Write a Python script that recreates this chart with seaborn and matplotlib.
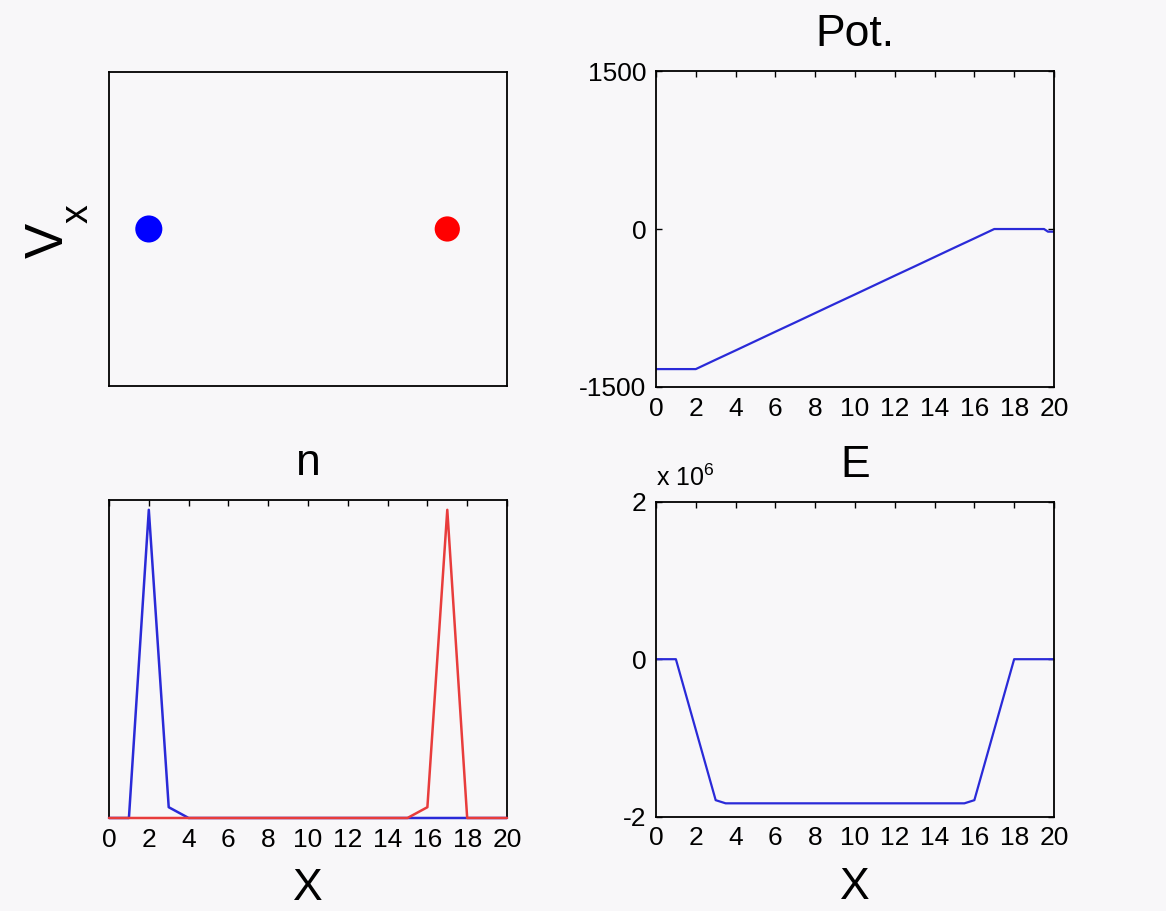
import matplotlib
matplotlib.use("Agg")
import matplotlib.pyplot as plt
import seaborn as sns
from matplotlib.ticker import FuncFormatter

# ---- data ----
# phase space (x, v_x) of the two particle groups
blue_x = [2.0]
blue_v = [0.0]
red_x = [17.0]
red_v = [0.0]

# potential
pot_x = [0, 1, 2, 3, 4, 5, 6, 7, 8, 9, 10, 11, 12, 13, 14, 15, 16, 17, 18, 19, 19.5, 19.7, 20]
pot_v = [-1330, -1330, -1330, -1241, -1153, -1064, -975, -887, -798, -709, -621,
         -532, -443, -355, -266, -177, -89, 0, 0, 0, 0, -25, -25]

# densities
n_x = list(range(0, 21))
n_blue = [0, 0, 1.0, 0.035, 0, 0, 0, 0, 0, 0, 0, 0, 0, 0, 0, 0, 0, 0, 0, 0, 0]
n_red = [0, 0, 0, 0, 0, 0, 0, 0, 0, 0, 0, 0, 0, 0, 0, 0, 0.035, 1.0, 0, 0, 0]

# electric field
e_x = [0, 1, 3, 3.5, 15.5, 16, 18, 20]
e_v = [0, 0, -1.79e6, -1.83e6, -1.83e6, -1.79e6, 0, 0]

x_ticks = [0, 2, 4, 6, 8, 10, 12, 14, 16, 18, 20]
pot_ticks = [-1500, 0, 1500]
e_ticks = [-2e6, 0, 2e6]

# ---- style ----
sns.set_theme(style="white")
bg = "#f8f7f9"
plt.rcParams["font.family"] = ["Liberation Sans", "DejaVu Sans"]
plt.rcParams.update({
    "figure.facecolor": bg,
    "axes.facecolor": bg,
    "axes.edgecolor": "black",
    "axes.linewidth": 1.3,
    "axes.unicode_minus": False,
    "text.color": "black",
    "axes.labelcolor": "black",
    "axes.titlecolor": "black",
    "xtick.direction": "in",
    "ytick.direction": "in",
    "xtick.major.size": 4,
    "ytick.major.size": 4,
    "xtick.major.width": 1.0,
    "ytick.major.width": 1.0,
    "xtick.color": "black",
    "ytick.color": "black",
    "xtick.labelcolor": "black",
    "ytick.labelcolor": "black",
    "xtick.labelsize": 19,
    "ytick.labelsize": 19,
    "mathtext.default": "regular",
})

fig = plt.figure(figsize=(11.66, 9.11), dpi=100)
ax1 = fig.add_axes([0.0935, 0.5763, 0.3413, 0.3447])
ax2 = fig.add_axes([0.5626, 0.5752, 0.3413, 0.3468])
ax3 = fig.add_axes([0.0935, 0.1021, 0.3413, 0.3491])
ax4 = fig.add_axes([0.5626, 0.1035, 0.3413, 0.3458])

title_kw = dict(fontsize=32, pad=18)
blue_c = "#2a2ad8"
red_c = "#e83c3c"

# top-left: phase space
sns.scatterplot(x=blue_x, y=blue_v, ax=ax1, color="#0000ff", s=380, edgecolor="none", legend=False)
sns.scatterplot(x=red_x, y=red_v, ax=ax1, color="#ff0000", s=330, edgecolor="none", legend=False)
ax1.set_xlim(0, 20)
ax1.set_ylim(-1, 1)
ax1.set_xticks([])
ax1.set_yticks([])
ax1.set_ylabel("")
fig.text(49 / 1166, 1 - 240 / 911, "V", rotation=90, fontsize=38,
         ha="center", va="center")
fig.text(78 / 1166, 1 - 214 / 911, "x", rotation=90, fontsize=27,
         ha="center", va="center")

# top-right: potential
sns.lineplot(x=pot_x, y=pot_v, ax=ax2, color=blue_c, lw=1.6)
ax2.set_xlim(0, 20)
ax2.set_ylim(-1500, 1500)
ax2.set_xticks(x_ticks)
ax2.set_yticks(pot_ticks)
ax2.set_title("Pot.", **title_kw)

# bottom-left: densities
sns.lineplot(x=n_x, y=n_blue, ax=ax3, color=blue_c, lw=1.8, zorder=3, clip_on=False)
sns.lineplot(x=n_x, y=n_red, ax=ax3, color=red_c, lw=1.8, zorder=3.1, clip_on=False)
ax3.set_xlim(0, 20)
ax3.set_ylim(0, 1.032)
ax3.set_xticks(x_ticks)
ax3.set_yticks([])
ax3.set_title("n", **title_kw)
ax3.set_xlabel("X", fontsize=32, labelpad=12)

# bottom-right: field
sns.lineplot(x=e_x, y=e_v, ax=ax4, color=blue_c, lw=1.6)
ax4.set_xlim(0, 20)
ax4.set_ylim(-2e6, 2e6)
ax4.set_xticks(x_ticks)
ax4.set_yticks(e_ticks)
ax4.yaxis.set_major_formatter(FuncFormatter(lambda v, p: f"{v/1e6:g}"))
ax4.set_title("E", **title_kw)
ax4.set_xlabel("X", fontsize=32, labelpad=12)
ax4.text(0.0, 1.035, "x 10$^{6}$", transform=ax4.transAxes, fontsize=18,
         ha="left", va="bottom")

for ax in (ax2, ax3, ax4):
    ax.tick_params(axis="both", which="both", top=True, right=True, pad=7)
for ax in (ax2, ax4):
    ax.tick_params(axis="y", right=True, left=True)
ax3.tick_params(axis="y", left=False, right=False)

for ax in (ax1, ax2, ax3, ax4):
    for s in ax.spines.values():
        s.set_visible(True)
        s.set_color("black")

fig.savefig("out.png", dpi=100, facecolor=bg)
